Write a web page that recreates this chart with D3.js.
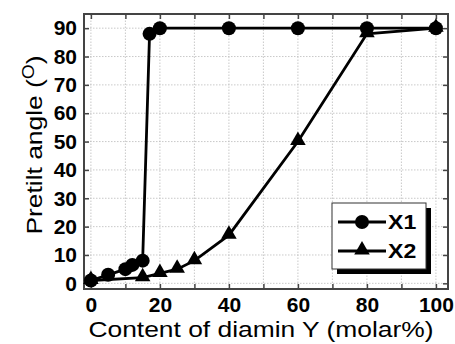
<!DOCTYPE html>
<html>
<head>
<meta charset="utf-8">
<script src="https://cdn.jsdelivr.net/npm/d3@7/dist/d3.min.js"></script>
<style>
  body { margin: 0; background: #fff; }
  text { font-family: "Liberation Sans", Arial, sans-serif; }
</style>
</head>
<body>
<svg id="chart" width="455" height="344"></svg>
<script>
// data
const x1Content = [0, 5, 10, 12, 15, 17, 20, 40, 60, 80, 100];
const x1Angle = [1, 3, 5, 6.5, 8, 88, 90, 90, 90, 90, 90];
const x2Content = [0, 15, 20, 25, 30, 40, 60, 80, 100];
const x2Angle = [1, 2, 3.5, 5, 8, 17, 50, 88, 90];
const xTicks = [0, 20, 40, 60, 80, 100];
const yTicks = [0, 10, 20, 30, 40, 50, 60, 70, 80, 90];
const seriesNames = ['X1', 'X2'];

const svg = d3.select('#chart');
const margin = { top: 14, right: 7, bottom: 55, left: 84 };
const width = 455, height = 344;

const x = d3.scaleLinear().domain([-2, 103.5]).range([margin.left, width - margin.right]);
const y = d3.scaleLinear().domain([-2, 95]).range([height - margin.bottom, margin.top]);

const frameColor = '#444';

// grid
const minorX = d3.range(0, 101, 10);
svg.append('g')
  .selectAll('line')
  .data(minorX)
  .enter().append('line')
  .attr('x1', d => x(d)).attr('x2', d => x(d))
  .attr('y1', y.range()[0]).attr('y2', y.range()[1])
  .attr('stroke', '#bbb').attr('stroke-width', 0.8).attr('stroke-dasharray', '1.5,1.5');
svg.append('g')
  .selectAll('line')
  .data(yTicks)
  .enter().append('line')
  .attr('y1', d => y(d)).attr('y2', d => y(d))
  .attr('x1', x.range()[0]).attr('x2', x.range()[1])
  .attr('stroke', '#bbb').attr('stroke-width', 0.8).attr('stroke-dasharray', '1.5,1.5');

// axes with inward ticks
const xAxis = g => g
  .attr('transform', `translate(0,${y.range()[0]})`)
  .call(d3.axisBottom(x).tickValues(minorX).tickSize(-5).tickSizeOuter(0).tickPadding(8)
    .tickFormat(d => xTicks.includes(d) ? d : ''));
const xAxisTop = g => g
  .attr('transform', `translate(0,${y.range()[1]})`)
  .call(d3.axisTop(x).tickValues(minorX).tickSize(-5).tickSizeOuter(0).tickFormat(''));
const yAxis = g => g
  .attr('transform', `translate(${x.range()[0]},0)`)
  .call(d3.axisLeft(y).tickValues(yTicks).tickSize(-5).tickSizeOuter(0).tickPadding(7));
const yAxisRight = g => g
  .attr('transform', `translate(${x.range()[1]},0)`)
  .call(d3.axisRight(y).tickValues(yTicks).tickSize(-5).tickSizeOuter(0).tickFormat(''));

[xAxis, xAxisTop, yAxis, yAxisRight].forEach(a => {
  const g = svg.append('g').call(a);
  g.select('.domain').remove();
  g.selectAll('.tick line').attr('stroke', frameColor).attr('stroke-width', 1.5);
  g.selectAll('.tick text').attr('fill', '#000')
    .style('font-size', '21px').style('font-weight', 'bold');
});

// frame
svg.append('rect')
  .attr('x', x.range()[0]).attr('y', y.range()[1])
  .attr('width', x.range()[1] - x.range()[0])
  .attr('height', y.range()[0] - y.range()[1])
  .attr('fill', 'none').attr('stroke', frameColor).attr('stroke-width', 2);

// series
const line = d3.line().x(d => x(d[0])).y(d => y(d[1]));
const s1 = x1Content.map((c, i) => [c, x1Angle[i]]);
const s2 = x2Content.map((c, i) => [c, x2Angle[i]]);
const tri = d3.symbol().type(d3.symbolTriangle).size(105);

svg.append('path').datum(s2).attr('d', line)
  .attr('fill', 'none').attr('stroke', '#000').attr('stroke-width', 2.8);
svg.append('g').selectAll('path').data(s2).enter().append('path')
  .attr('d', tri).attr('transform', d => `translate(${x(d[0])},${y(d[1]) - 1})`)
  .attr('fill', '#000');

svg.append('path').datum(s1).attr('d', line)
  .attr('fill', 'none').attr('stroke', '#000').attr('stroke-width', 2.8);
svg.append('g').selectAll('circle').data(s1).enter().append('circle')
  .attr('cx', d => x(d[0])).attr('cy', d => y(d[1])).attr('r', 7)
  .attr('fill', '#000');

// legend
const lg = svg.append('g').attr('transform', 'translate(332,203)');
lg.append('rect').attr('x', 5).attr('y', 5).attr('width', 94).attr('height', 66).attr('fill', '#000');
lg.append('rect').attr('width', 94).attr('height', 66).attr('fill', '#fff')
  .attr('stroke', '#333').attr('stroke-width', 1);
seriesNames.forEach((name, i) => {
  const ry = 19 + i * 29;
  lg.append('line').attr('x1', 6).attr('x2', 54).attr('y1', ry).attr('y2', ry)
    .attr('stroke', '#000').attr('stroke-width', 2.8);
  if (i === 0) {
    lg.append('circle').attr('cx', 30).attr('cy', ry).attr('r', 7).attr('fill', '#000');
  } else {
    lg.append('path').attr('d', tri).attr('transform', `translate(30,${ry - 1})`).attr('fill', '#000');
  }
  lg.append('text').attr('x', 56).attr('y', ry + 7.5).text(name)
    .style('font-size', '21px').style('font-weight', 'bold')
    .attr('transform', `translate(56,0) scale(1.1,1) translate(-56,0)`);
});

// axis titles (reference face is wider than Liberation Sans, so stretch a bit)
svg.append('text')
  .attr('transform', 'translate(261,337) scale(1.2,1)')
  .attr('text-anchor', 'middle').style('font-size', '22px')
  .text('Content of diamin Y (molar%)');

const yt = svg.append('text')
  .attr('transform', `translate(42,145) rotate(-90) scale(1.2,1)`)
  .attr('text-anchor', 'middle').style('font-size', '22px');
yt.append('tspan').text('Pretilt angle (');
yt.append('tspan').attr('dy', -8).style('font-size', '16px').text('O');
yt.append('tspan').attr('dy', 8).text(')');
</script>
</body>
</html>
